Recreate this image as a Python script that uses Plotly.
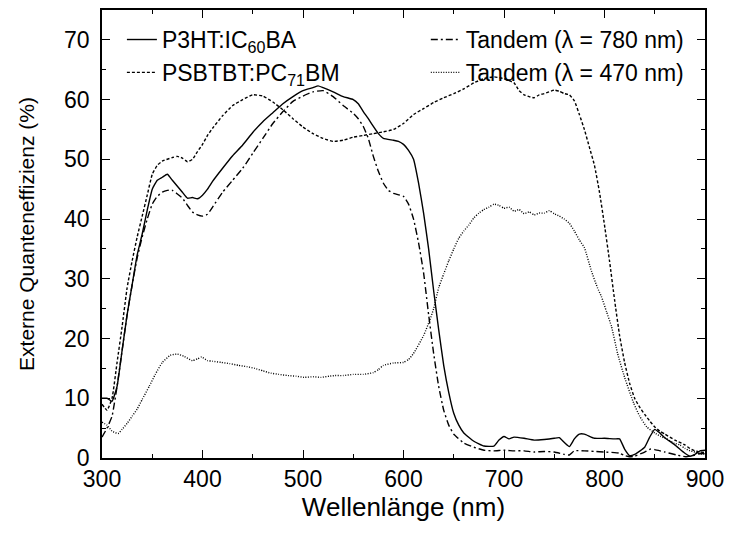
import plotly.graph_objects as go

# P3HT:IC60BA single cell (solid)
wl_p3ht = [300, 305, 310, 315, 320, 325, 330, 335, 340, 345, 350, 355, 360, 365, 370, 375,
           380, 385, 390, 395, 400, 405, 410, 420, 430, 440, 450, 460, 470, 480, 490, 500,
           510, 515, 520, 530, 540, 550, 555, 560, 565, 570, 575, 580, 590, 595, 600, 605,
           610, 615, 620, 625, 630, 635, 640, 645, 650, 655, 660, 670, 680, 690, 695, 700,
           705, 710, 720, 730, 740, 750, 755, 760, 765, 770, 775, 780, 790, 800, 810, 815,
           820, 825, 830, 840, 845, 850, 855, 860, 870, 880, 885, 890, 895, 900]
eqe_p3ht = [10, 10, 9.5, 12, 18, 24, 29, 34, 37.5, 41.5, 45, 46.5, 47, 47.5, 46.5, 45.5,
            44.5, 43.5, 43.6, 43.4, 44, 45, 46.3, 48.5, 50.6, 52.4, 54.5, 56.3, 57.8, 59.3, 60.5, 61.5,
            62, 62.3, 62, 61.3, 60.5, 60, 59.3, 58, 56.8, 55.5, 54.3, 53.5, 53.2, 53, 52.5, 51.5,
            50, 46, 41, 35, 28, 21.5, 15.5, 11, 7.5, 5.5, 4.2, 2.8, 2.0, 2.0, 3.0, 3.6,
            3.2, 3.5, 3.3, 3.0, 3.1, 3.3, 3.4, 2.6, 1.9, 3.2, 4.0, 4.0, 3.3, 3.3, 3.2, 3.2,
            1.5, 0.4, 0.6, 1.8, 3.5, 4.8, 4.2, 3.4, 2.2, 0.8, 0.3, 0.6, 1.2, 1.3]

# Tandem cell measured with 780 nm bias light (dash-dot)
wl_t780 = [300, 305, 310, 315, 320, 325, 330, 335, 340, 345, 350, 355, 360, 365, 370, 375,
           380, 385, 390, 395, 400, 405, 410, 420, 430, 440, 450, 460, 470, 480, 490, 500,
           510, 520, 530, 540, 550, 555, 560, 565, 570, 575, 580, 585, 590, 600, 605, 610,
           615, 620, 625, 630, 635, 640, 645, 650, 660, 670, 680, 690, 700, 710, 720, 730,
           740, 750, 760, 765, 770, 780, 790, 800, 810, 815, 820, 825, 830, 840, 846, 850,
           860, 872, 881, 890, 895, 900]
eqe_t780 = [3.5, 5, 7, 12, 18, 24, 29, 33.5, 37, 40, 42.5, 43.8, 44.5, 44.8, 44.8, 44.2,
            43.5, 42.3, 41.2, 40.7, 40.5, 40.8, 42, 44.5, 46.5, 48.5, 51, 53.5, 56, 58, 59.7, 60.6,
            61.3, 61.5, 60.5, 59, 57.7, 56.8, 55.5, 53.5, 50.5, 48, 46, 44.8, 44.3, 43.8, 42.5, 40,
            36, 31, 24, 17.5, 12, 8, 5.5, 4, 2.5, 1.8, 1.3, 1.2, 1.3, 1.2, 1.2, 1.0,
            1.1, 1.0, 0.6, 0.5, 1.2, 1.2, 1.1, 1.0, 0.9, 0.8, 0.4, 0.2, 0.3, 1.0, 1.5, 1.4,
            1.0, 0.5, 0.2, 0.5, 0.8, 0.7]

# PSBTBT:PC71BM single cell (dashed)
wl_psbtbt = [300, 305, 310, 315, 320, 325, 330, 335, 340, 345, 350, 355, 360, 370, 375, 380,
             385, 390, 395, 400, 405, 410, 420, 430, 440, 450, 460, 470, 480, 490, 500, 510,
             520, 530, 540, 550, 560, 570, 580, 590, 600, 610, 620, 630, 640, 650, 660, 670,
             680, 690, 700, 710, 715, 720, 725, 730, 735, 740, 750, 755, 760, 765, 770, 775,
             780, 785, 790, 795, 800, 805, 810, 815, 820, 825, 830, 835, 840, 845, 850, 855,
             860, 870, 880, 885, 890, 895, 900]
eqe_psbtbt = [9, 8, 10, 16, 22, 28.5, 33, 37, 40.5, 44, 47.5, 49, 49.7, 50.3, 50.5, 50.2,
              49.6, 50, 51.3, 52.5, 54, 55.2, 57.3, 59, 60, 60.8, 60.6, 59.6, 58.3, 56.8, 55.4, 54.3,
              53.5, 53, 53.2, 53.7, 54, 54.3, 54.6, 55, 56, 57.5, 58.5, 59.5, 60.3, 61, 61.8, 62.8,
              63.5, 63.8, 63.5, 62.8, 61.5, 60.8, 60.5, 60.3, 60.8, 61, 61.6, 61.4, 61, 60.8, 59.8, 57.5,
              55, 52, 49, 44.5, 39, 33, 26.5, 20.5, 16, 12.5, 10, 8.5, 7.3, 6.2, 5.2, 4.5,
              4.0, 3.0, 2.2, 1.6, 1.2, 1.0, 0.9]

# Tandem cell measured with 470 nm bias light (dotted)
wl_t470 = [300, 305, 310, 316, 320, 325, 330, 335, 340, 347, 353, 360, 368, 375, 382, 390,
           395, 399, 405, 410, 419, 427, 436, 444, 452, 460, 468, 476, 485, 493, 501, 510,
           518, 526, 532, 540, 550, 560, 570, 575, 580, 590, 600, 605, 610, 620, 626, 630,
           635, 640, 645, 650, 655, 660, 665, 670, 675, 680, 685, 690, 695, 700, 705, 710,
           715, 720, 725, 730, 735, 740, 745, 750, 755, 760, 765, 770, 775, 780, 787, 793,
           797, 802, 807, 813, 820, 829, 835, 842, 850, 856, 862, 869, 875, 880, 885, 890,
           895, 900]
eqe_t470 = [6, 5.5, 4.5, 4.1, 4.8, 5.8, 7, 8.2, 9.8, 12, 14, 16, 17.2, 17.4, 17, 16.3,
            16.6, 16.9, 16.3, 16.2, 16, 15.8, 15.5, 15.3, 15, 14.6, 14.2, 14, 13.8, 13.7, 13.5, 13.6,
            13.5, 13.7, 13.8, 13.8, 14, 14, 14.3, 14.8, 15.5, 15.9, 16, 16.5, 17.5, 20.5, 23, 25,
            28.5, 30.8, 33, 35, 36.8, 38, 39, 40.2, 41, 41.6, 42, 42.5, 42.3, 41.8, 42, 41.3,
            41.6, 40.9, 41.2, 40.7, 41, 41, 41.4, 40.9, 40.5, 40, 39.3, 38, 36.5, 35.2, 31.3, 28.5,
            27, 24.5, 22, 17.5, 13.5, 9.2, 7, 5.2, 4.2, 3.6, 3.2, 2.5, 2.2, 1.6, 1.2, 1.0,
            0.6, 0.8]

x_ticks = [300, 400, 500, 600, 700, 800, 900]
y_ticks = [0, 10, 20, 30, 40, 50, 60, 70]

FONT = "Liberation Sans, Arial, sans-serif"

# single cells go in the left legend column, tandem curves in the right one
series = [
    ("P3HT:IC<sub>60</sub>BA", wl_p3ht, eqe_p3ht, "solid", "legend"),
    ("PSBTBT:PC<sub>71</sub>BM", wl_psbtbt, eqe_psbtbt, "3px,2px", "legend"),
    ("Tandem (λ = 780 nm)", wl_t780, eqe_t780, "7px,3px,2px,3px", "legend2"),
    ("Tandem (λ = 470 nm)", wl_t470, eqe_t470, "1px,1.5px", "legend2"),
]

fig = go.Figure()
for name, xs, ys, dash, leg in series:
    assert len(xs) == len(ys), name
    fig.add_trace(go.Scatter(
        x=xs, y=ys, name=name, mode="lines", legend=leg,
        line=dict(color="black", width=1.4, dash=dash, shape="spline", smoothing=0.4),
    ))

axis_common = dict(
    showline=True, linecolor="black", linewidth=1.5, mirror="allticks",
    ticks="inside", ticklen=8, tickwidth=1.3, tickcolor="black",
    showgrid=False, zeroline=False,
    tickfont=dict(family=FONT, size=23, color="black"),
)

fig.update_xaxes(
    range=[300, 900], tickvals=x_ticks, ticktext=[str(v) for v in x_ticks],
    minor=dict(dtick=50, tick0=300, ticks="inside", ticklen=4, tickwidth=1.2, tickcolor="black"),
    title_text="Wellenlänge (nm)", title_standoff=3,
    title_font=dict(family=FONT, size=26, color="black"),
    **axis_common,
)
fig.update_yaxes(
    range=[0, 75], tickvals=y_ticks, ticktext=[str(v) for v in y_ticks],
    minor=dict(dtick=5, tick0=0, ticks="inside", ticklen=4, tickwidth=1.2, tickcolor="black"),
    title_text="Externe Quanteneffizienz (%)", title_standoff=24,
    title_font=dict(family=FONT, size=21, color="black"),
    ticklabelstandoff=6,
    **axis_common,
)

legend_style = dict(
    orientation="v", yanchor="top", xanchor="left",
    bgcolor="rgba(0,0,0,0)", font=dict(family=FONT, size=23, color="black"),
    tracegroupgap=0,
)

fig.update_layout(
    width=732, height=535,
    margin=dict(l=102, r=20, t=8, b=77),
    paper_bgcolor="white", plot_bgcolor="white",
    font=dict(family=FONT, size=23, color="black"),
    legend=dict(x=0.033, y=0.982, **legend_style),
    legend2=dict(x=0.537, y=0.982, **legend_style),
    showlegend=True,
)

fig.write_html("out.html")
